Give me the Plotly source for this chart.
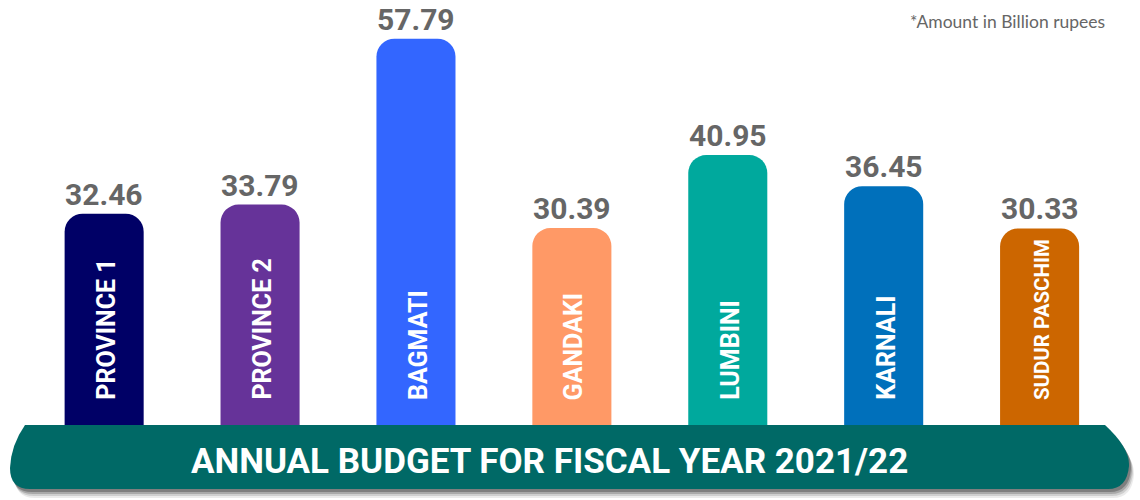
import plotly.graph_objects as go

# ---- data ----
provinces = ["PROVINCE 1", "PROVINCE 2", "BAGMATI", "GANDAKI", "LUMBINI", "KARNALI", "SUDUR PASCHIM"]
budget = [32.46, 33.79, 57.79, 30.39, 40.95, 36.45, 30.33]
title_text = "ANNUAL BUDGET FOR FISCAL YEAR 2021/22"
note_text = "*Amount in Billion rupees"

# ---- styles ----
bar_colors = ["#000066", "#663399", "#3366FF", "#FF9966", "#00A99D", "#0070BB", "#CC6600"]
banner_color = "#006966"
label_gray = "#666666"
COND = "Roboto, sans-serif"
W, H = 1140, 500

def px(x, y):
    """pixel -> paper coordinates string"""
    return f"{x / W:.5f},{1 - y / H:.5f}"

fig = go.Figure()
fig.add_trace(go.Bar(
    x=provinces, y=budget, width=0.507,
    marker=dict(color=bar_colors, line=dict(width=0)),
    hoverinfo="skip",
))

annotations = []
for name, val in zip(provinces, budget):
    annotations.append(dict(
        x=name, y=val, xref="x", yref="y", text=f"{val:.2f}", showarrow=False,
        yanchor="bottom", xanchor="center", yshift=1, borderpad=0,
        font=dict(family=COND, size=30, color=label_gray, weight="bold"),
    ))
    fsize = 25 if len(name) <= 10 else 20.5
    annotations.append(dict(
        x=name, y=0, xref="x", yref="y", text=name, showarrow=False, textangle=-90,
        yanchor="bottom", xanchor="center", yshift=36, xshift=2,
        font=dict(family=COND, size=fsize, color="white", weight="bold"),
    ))

annotations.append(dict(
    x=549 / W, y=1 - 461 / H, xref="paper", yref="paper", text=title_text, showarrow=False,
    xanchor="center", yanchor="middle",
    font=dict(family=COND, size=35, color="white", weight="bold"),
))
annotations.append(dict(
    x=1107 / W, y=1 - 21 / H, xref="paper", yref="paper", text=note_text, showarrow=False,
    xanchor="right", yanchor="middle",
    font=dict(family="Lato, sans-serif", size=17.5, color="#666666"),
))

def banner_path(dx=0, dy=0):
    pts = [
        f"M {px(25+dx, 425+dy)}",
        f"L {px(1105+dx, 425+dy)}",
        f"Q {px(1130+dx, 448+dy)} {px(1129+dx, 466+dy)}",
        f"Q {px(1127+dx, 489+dy)} {px(1108+dx, 489+dy)}",
        f"L {px(30+dx, 489+dy)}",
        f"Q {px(10+dx, 489+dy)} {px(10+dx, 468+dy)}",
        f"Q {px(11+dx, 445+dy)} {px(25+dx, 425+dy)}",
        "Z",
    ]
    return " ".join(pts)

shapes = []
for dx, dy, op in [(5, 9, 0.08), (4, 7, 0.12), (3, 5, 0.18), (2, 3, 0.25)]:
    shapes.append(dict(type="path", path=banner_path(dx, dy), xref="paper", yref="paper",
                       fillcolor="black", opacity=op, line=dict(width=0), layer="above"))
shapes.append(dict(type="path", path=banner_path(), xref="paper", yref="paper",
                   fillcolor=banner_color, line=dict(width=0), layer="above"))

fig.update_layout(
    width=W, height=H,
    margin=dict(l=0, r=0, t=0, b=0),
    paper_bgcolor="white", plot_bgcolor="white",
    showlegend=False,
    barcornerradius=18,
    xaxis=dict(range=[-0.668, 6.644], visible=False, fixedrange=True),
    yaxis=dict(range=[-8.97, 63.39], visible=False, fixedrange=True),
    annotations=annotations,
    shapes=shapes,
)

fig.write_html("out.html", config={"displayModeBar": False})
